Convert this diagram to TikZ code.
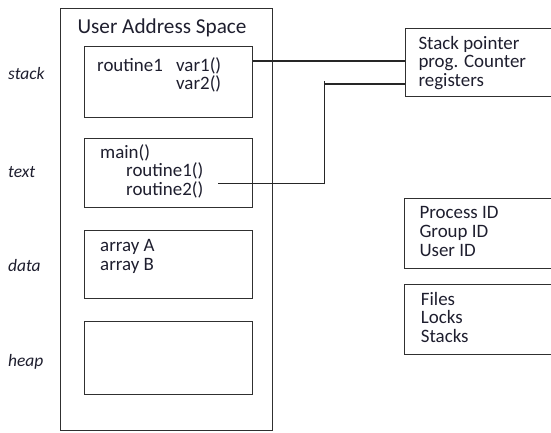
\documentclass[tikz,border=0pt]{standalone}
\usepackage{fontspec}
\setmainfont{Carlito}
\usetikzlibrary{calc}
\definecolor{ink}{HTML}{1E1E2E}
\definecolor{frame}{HTML}{303030}
\begin{document}
\begin{tikzpicture}[x=1bp,y=-1bp,
  box/.style={draw=frame,line width=1.1bp,inner sep=0pt,anchor=north west},
  txt/.style={anchor=base west,inner sep=0pt,text=ink,font=\fontsize{19}{19}\selectfont},
  lbl/.style={txt,font=\fontsize{17.5}{19}\selectfont\itshape},
  wire/.style={draw=black!85,line width=1.1bp}]
\useasboundingbox (0,0) rectangle (551,432);

% user address space and its segments
\node[box,minimum width=212bp,minimum height=422bp] (space) at (60.3,8.3) {};
\node[anchor=base,inner sep=0pt,text=ink,font=\fontsize{21.3}{22}\selectfont] (title) at (162,33) {User Address Space};
\node[box,minimum width=168bp,minimum height=71bp] (stackbox) at (83.7,45.7) {};
\node[box,minimum width=168bp,minimum height=69.6bp] (textbox) at (83.7,137.7) {};
\node[box,minimum width=168bp,minimum height=68.3bp] (databox) at (83.7,230) {};
\node[box,minimum width=168bp,minimum height=73.3bp] (heapbox) at (83.7,320.7) {};

% segment names
\node[lbl] (lstack) at (8,79) {stack};
\node[lbl] (ltext) at (8,177) {text};
\node[lbl] (ldata) at (8,271.7) {data};
\node[lbl] (lheap) at (8,366) {heap};

% segment contents
\node[txt] (r1) at (97,71.7) {routine1};
\node[txt] (v1) at (176,71.7) {var1()};
\node[txt] (v2) at (176,89.5) {var2()};
\node[txt] (mn) at (100,158.5) {main()};
\node[txt] (c1) at (126,176.5) {routine1()};
\node[txt] (c2) at (126,195) {routine2()};
\node[txt] (aa) at (100,251.7) {array A};
\node[txt] (ab) at (100,270.7) {array B};

% process context boxes
\node[box,minimum width=160bp,minimum height=68.3bp] (regbox) at (404.5,27.7) {};
\node[txt] (sp) at (418.3,49) {Stack pointer};
\node[txt] (pc) at (418.3,67.5) {prog. Counter};
\node[txt] (rg) at (418.3,86) {registers};

\node[box,minimum width=160bp,minimum height=70bp] (idbox) at (404,198.3) {};
\node[txt] (pid) at (419.3,218.3) {Process ID};
\node[txt] (gid) at (419.3,237.3) {Group ID};
\node[txt] (uid) at (419.3,256) {User ID};

\node[box,minimum width=160bp,minimum height=70bp] (resbox) at (404,284.3) {};
\node[txt] (fl) at (420.7,305) {Files};
\node[txt] (lk) at (420.7,323.5) {Locks};
\node[txt] (st) at (420.7,342.7) {Stacks};

% connectors to the register box
\coordinate (y1) at (0,61);
\coordinate (from) at (218,183.3);
\coordinate (knee) at (324.3,183.3);
\coordinate (top) at (324.3,84);
\draw[wire] (stackbox.east |- y1) -- (regbox.west |- y1);
\draw[wire] (from) -- (knee) -- (top) -- (regbox.west |- top);
\draw[wire] ($(knee)+(0,1)$) -- ($(top)+(0,-3)$);
\end{tikzpicture}
\end{document}
